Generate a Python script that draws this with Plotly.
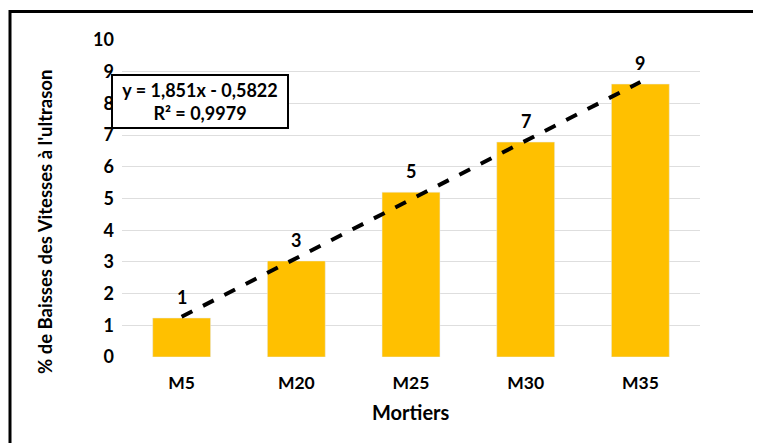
import plotly.graph_objects as go

# Données
mortiers = ["M5", "M20", "M25", "M30", "M35"]
positions = [1, 2, 3, 4, 5]
baisses = [1.23, 3.03, 5.2, 6.78, 8.61]

# Courbe de tendance affichée (régression linéaire Excel)
pente = 1.851
ordonnee = -0.5822
r2 = 0.9979
tendance = [pente * x + ordonnee for x in positions]

# la page html a une marge de 8 px autour de la figure
OFF = 8
W, H = 761 - OFF, 443 - OFF
left, right, top, bottom = 122, 700, 40, 357   # zone de tracé (pixels de la page)
ml, mr, mt, mb = left - OFF, 761 - right, top - OFF, 443 - bottom
pw, ph = right - left, bottom - top

def px_x(p):
    return (p - left) / pw

def px_y(p):
    return (bottom - p) / ph

police = "Lato"
fmt = lambda v: str(v).replace(".", ",")

fig = go.Figure()

fig.add_trace(go.Bar(
    x=positions,
    y=baisses,
    width=0.505,
    marker=dict(color="#FFC000"),
    showlegend=False,
))

fig.add_trace(go.Scatter(
    x=positions,
    y=tendance,
    mode="lines",
    line=dict(color="#000000", width=4, dash="dash"),
    showlegend=False,
))

# étiquettes de données au-dessus des barres
etiquettes = [dict(
    x=x, y=v, xref="x", yref="y",
    text=f"<b>{round(v)}</b>",
    showarrow=False, yanchor="middle", yshift=21,
    font=dict(family=police, size=18, color="#000000"),
) for x, v in zip(positions, baisses)]

fig.update_layout(
    width=W,
    height=H,
    margin=dict(l=ml, r=mr, t=mt, b=mb),
    plot_bgcolor="white",
    paper_bgcolor="white",
    font=dict(family=police, color="#000000"),
    xaxis=dict(
        range=[0.48, 5.52],
        tickvals=positions,
        ticktext=[f"<b>{m}</b>" for m in mortiers],
        tickfont=dict(size=17.5),
        ticklabelstandoff=13,
        showgrid=False,
        zeroline=False,
        ticks="",
    ),
    yaxis=dict(
        range=[0, 10],
        tickvals=list(range(11)),
        ticktext=[f"<b>{v}</b>" for v in range(11)],
        tickfont=dict(size=18),
        ticklabelstandoff=7,
        gridcolor="#DEDEDE",
        gridwidth=1,
        zeroline=False,
        ticks="",
    ),
    annotations=etiquettes + [
        dict(
            xref="paper", yref="paper",
            x=px_x(200), y=px_y(101),
            xanchor="center", yanchor="middle",
            text=f"<b>y = {fmt(pente)}x - {fmt(abs(ordonnee))}<br>R² = {fmt(r2)}</b>",
            showarrow=False,
            font=dict(family=police, size=18, color="#000000"),
            bordercolor="#000000",
            borderwidth=2,
            borderpad=3,
            bgcolor="white",
            width=168,
        ),
        dict(
            xref="paper", yref="paper",
            x=px_x(45), y=px_y(222),
            xanchor="center", yanchor="middle",
            text="<b>% de Baisses des Vitesses à l'ultrason</b>",
            textangle=-90,
            showarrow=False,
            font=dict(family=police, size=18.5, color="#000000"),
        ),
        dict(
            xref="paper", yref="paper",
            x=px_x(411), y=px_y(412),
            xanchor="center", yanchor="middle",
            text="<b>Mortiers</b>",
            showarrow=False,
            font=dict(family=police, size=20, color="#000000"),
        ),
    ],
    shapes=[dict(
        type="rect",
        xref="paper", yref="paper",
        x0=px_x(10), x1=px_x(800),
        y0=px_y(480), y1=px_y(11.5),
        line=dict(color="#000000", width=3),
        layer="below",
    )],
)

fig.write_html("out.html")
